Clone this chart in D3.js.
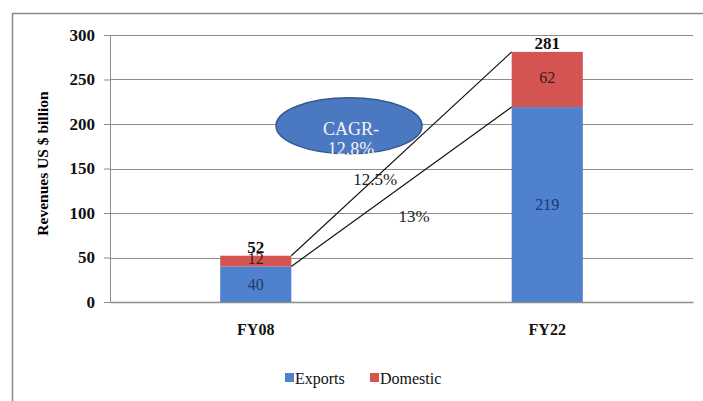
<!DOCTYPE html>
<html>
<head>
<meta charset="utf-8">
<script src="https://cdn.jsdelivr.net/npm/d3@7"></script>
<style>
  body { margin: 0; background: #fff; }
  svg text { font-family: "Liberation Serif", Tinos, "Times New Roman", "DejaVu Serif", serif; }
</style>
</head>
<body>
<div id="chart"></div>
<script>
// Data
const categories = ["FY08", "FY22"];
const exportsVals = [40, 219];
const domesticVals = [12, 62];
const yTicks = [0, 50, 100, 150, 200, 250, 300];
const seriesNames = ["Exports", "Domestic"];
const cagrMain = ["CAGR-", "12.8%"];
const cagrTotal = "12.5%";
const cagrExports = "13%";

const totals = categories.map((c, i) => exportsVals[i] + domesticVals[i]);

const W = 703, H = 401;
const margin = {top: 35, right: 10, bottom: 99, left: 110};
const width = W - margin.left - margin.right,
      height = H - margin.top - margin.bottom;

const serif = '"Liberation Serif", Tinos, "Times New Roman", "DejaVu Serif", serif';
const colors = {Exports: "#4f81cf", Domestic: "#d35451"};

const svg = d3.select("#chart")
  .append("svg")
  .attr("width", W)
  .attr("height", H)
  .attr("font-family", serif);

// Outer frame
svg.append("rect")
  .attr("x", 12.5).attr("y", 13.5)
  .attr("width", W).attr("height", H)
  .attr("fill", "none")
  .attr("stroke", "#8a8a8a")
  .attr("stroke-width", 1.5);

const g = svg.append("g")
  .attr("transform", `translate(${margin.left},${margin.top})`);

// Scales
const x = d3.scaleBand()
  .domain(categories)
  .range([0, width])
  .paddingInner(0.756)
  .paddingOuter(0.378);

const y = d3.scaleLinear()
  .domain([0, 300])
  .range([height, 0]);

// Gridlines
g.append("g")
  .selectAll("line")
  .data(yTicks.filter(d => d > 0))
  .enter()
  .append("line")
  .attr("x1", 0).attr("x2", width)
  .attr("y1", d => Math.round(y(d)) + 0.5)
  .attr("y2", d => Math.round(y(d)) + 0.5)
  .attr("stroke", "#8c8c8c")
  .attr("stroke-width", 1);

// Y axis
const yAxis = g.append("g")
  .call(d3.axisLeft(y).tickValues(yTicks).tickSizeInner(6).tickSizeOuter(0).tickPadding(9))
  .attr("font-family", serif);
yAxis.select(".domain").attr("stroke", "#8c8c8c");
yAxis.selectAll(".tick line").attr("stroke", "#8c8c8c");
yAxis.selectAll(".tick text")
  .style("font-size", "17px")
  .style("font-weight", "bold")
  .attr("fill", "#111");

// X axis
const xAxis = g.append("g")
  .attr("transform", `translate(0,${height})`)
  .call(d3.axisBottom(x).tickSize(0).tickPadding(22))
  .attr("font-family", serif);
xAxis.select(".domain").attr("stroke", "#8c8c8c").attr("stroke-width", 1.5);
xAxis.selectAll(".tick text")
  .style("font-size", "16px")
  .style("font-weight", "bold")
  .attr("fill", "#111");

// Y axis title
g.append("text")
  .attr("transform", "rotate(-90)")
  .attr("x", -(y(150) - 5))
  .attr("y", -62)
  .attr("text-anchor", "middle")
  .style("font-size", "15.5px")
  .style("font-weight", "bold")
  .text("Revenues US $ billion");

// Stacked bars
const stackData = categories.map((c, i) => ({cat: c, Exports: exportsVals[i], Domestic: domesticVals[i]}));
const series = d3.stack().keys(seriesNames)(stackData);

g.selectAll(".layer")
  .data(series)
  .enter()
  .append("g")
  .attr("fill", d => colors[d.key])
  .selectAll("rect")
  .data(d => d)
  .enter()
  .append("rect")
  .attr("x", d => x(d.data.cat))
  .attr("y", d => y(d[1]))
  .attr("width", x.bandwidth())
  .attr("height", d => y(d[0]) - y(d[1]));

// Segment labels
const labelColors = {Exports: "#1d3a6e", Domestic: "#3a1c1c"};
series.forEach(s => {
  g.selectAll(null)
    .data(s)
    .enter()
    .append("text")
    .attr("x", d => x(d.data.cat) + x.bandwidth() / 2)
    .attr("y", d => (y(d[0]) + y(d[1])) / 2)
    .attr("dy", s.key === "Domestic" && s[0] ? "0.2em" : "0.35em")
    .attr("text-anchor", "middle")
    .style("font-size", "16px")
    .attr("fill", labelColors[s.key])
    .text(d => d.data[s.key]);
});

// Total labels
g.selectAll(".total")
  .data(categories)
  .enter()
  .append("text")
  .attr("x", d => x(d) + x.bandwidth() / 2)
  .attr("y", (d, i) => y(totals[i]) - 3)
  .attr("text-anchor", "middle")
  .style("font-size", "17px")
  .style("font-weight", "bold")
  .attr("fill", "#111")
  .text((d, i) => totals[i]);

// CAGR connector lines
const x0 = x(categories[0]) + x.bandwidth();
const x1 = x(categories[1]);
[totals, exportsVals].forEach(vals => {
  g.append("line")
    .attr("x1", x0).attr("y1", y(vals[0]))
    .attr("x2", x1).attr("y2", y(vals[1]))
    .attr("stroke", "#111")
    .attr("stroke-width", 1.2);
});

// helper: position between the two bar centres
const cx0 = x(categories[0]) + x.bandwidth() / 2;
const cx1 = x(categories[1]) + x.bandwidth() / 2;
const between = t => cx0 + t * (cx1 - cx0);

// CAGR ellipse
g.append("ellipse")
  .attr("cx", between(0.32))
  .attr("cy", y(198))
  .attr("rx", 73)
  .attr("ry", 28)
  .attr("fill", "#4a79c2")
  .attr("stroke", "#35598f")
  .attr("stroke-width", 1.5);

g.append("text")
  .attr("x", between(0.32) + 2)
  .attr("y", y(188))
  .attr("text-anchor", "middle")
  .style("font-size", "18px")
  .attr("fill", "#f4f4f4")
  .selectAll("tspan")
  .data(cagrMain)
  .enter()
  .append("tspan")
  .attr("x", between(0.32) + 2)
  .attr("dy", (d, i) => i === 0 ? 0 : 20)
  .text(d => d);

g.append("text")
  .attr("x", between(0.41))
  .attr("y", y(131.5))
  .attr("text-anchor", "middle")
  .style("font-size", "17px")
  .attr("fill", "#222")
  .text(cagrTotal);

g.append("text")
  .attr("x", between(0.543))
  .attr("y", y(90))
  .attr("text-anchor", "middle")
  .style("font-size", "17px")
  .attr("fill", "#222")
  .text(cagrExports);

// Legend
const legend = svg.append("g")
  .attr("transform", "translate(285,373)");
const legendX = [0, 85];
seriesNames.forEach((name, i) => {
  legend.append("rect")
    .attr("x", legendX[i]).attr("y", 0)
    .attr("width", 9).attr("height", 9)
    .attr("fill", colors[name]);
  legend.append("text")
    .attr("x", legendX[i] + 10)
    .attr("y", 11)
    .style("font-size", "16px")
    .attr("fill", "#111")
    .text(name);
});
</script>
</body>
</html>
